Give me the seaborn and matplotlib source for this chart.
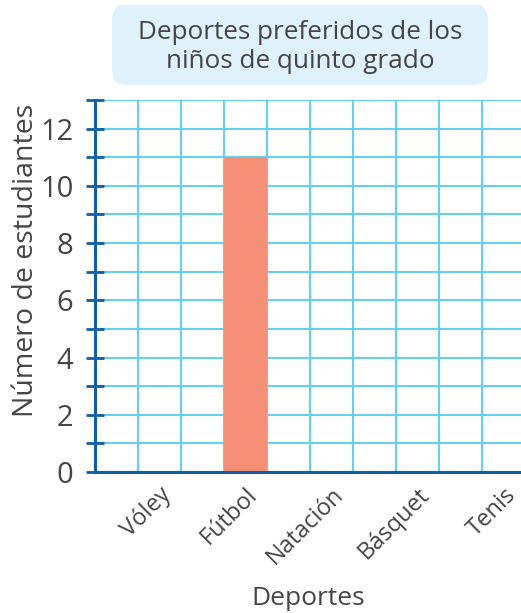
import numpy as np
import pandas as pd
import matplotlib.pyplot as plt
import seaborn as sns
from matplotlib.patches import FancyBboxPatch
from matplotlib.ticker import FixedLocator, MultipleLocator, FuncFormatter

# datos del gráfico
deportes = ["Vóley", "Fútbol", "Natación", "Básquet", "Tenis"]
estudiantes = [0, 11, 0, 0, 0]
titulo = "Deportes preferidos de los\nniños de quinto grado"

df = pd.DataFrame({"deporte": deportes, "n": estudiantes})

sns.set_style("white")
plt.rcParams["font.family"] = ["Open Sans", "DejaVu Sans"]

AZUL = "#0f5fa6"
REJILLA = "#66d0f4"
TEXTO = "#454545"

fig = plt.figure(figsize=(5.21, 6.13), dpi=100)
ax = fig.add_axes([0.1823, 0.230, 0.8177, 0.607])

sns.barplot(data=df, x="deporte", y="n", color="#f58f75", width=0.5,
            saturation=1, linewidth=0, ax=ax)

ax.set_xlim(-0.75, 4.2)
ax.set_ylim(0, 13)

# rejilla
ax.set_axisbelow(True)
ax.xaxis.set_minor_locator(FixedLocator(np.arange(-0.25, 4.3, 0.5)))
ax.yaxis.set_major_locator(MultipleLocator(1))
ax.yaxis.set_major_formatter(FuncFormatter(lambda v, p: f"{v:.0f}" if round(v) % 2 == 0 else ""))
ax.grid(False)
ax.grid(which="minor", axis="x", color=REJILLA, linewidth=1.5)
ax.grid(which="major", axis="y", color=REJILLA, linewidth=1.5)

for s in ["top", "right"]:
    ax.spines[s].set_visible(False)
for s in ["left", "bottom"]:
    ax.spines[s].set_color(AZUL)
    ax.spines[s].set_linewidth(2.2)

ax.tick_params(axis="y", left=True, direction="inout", length=13, width=2,
               color=AZUL, labelsize=21, labelcolor=TEXTO, pad=9)
ax.tick_params(axis="x", which="both", length=0, labelsize=17,
               labelcolor=TEXTO, pad=8)
plt.setp(ax.get_xticklabels(), rotation=45, ha="right", rotation_mode="anchor")

ax.set_xlabel("Deportes", fontsize=19, color=TEXTO, labelpad=12)
ax.set_ylabel("Número de estudiantes", fontsize=20.5, color=TEXTO)
ax.yaxis.set_label_coords(-0.128, 0.57)

# título en recuadro
caja = FancyBboxPatch((112 / 521, 1 - 85 / 613), 376 / 521, 80 / 613,
                      boxstyle="round,pad=0,rounding_size=0.025",
                      transform=fig.transFigure, facecolor="#dff1fb",
                      edgecolor="none")
fig.patches.append(caja)
fig.text(300 / 521, 1 - 47 / 613, titulo, ha="center", va="center",
         fontsize=18.8, color=TEXTO, linespacing=1.2)

fig.savefig("out.png", dpi=100)
